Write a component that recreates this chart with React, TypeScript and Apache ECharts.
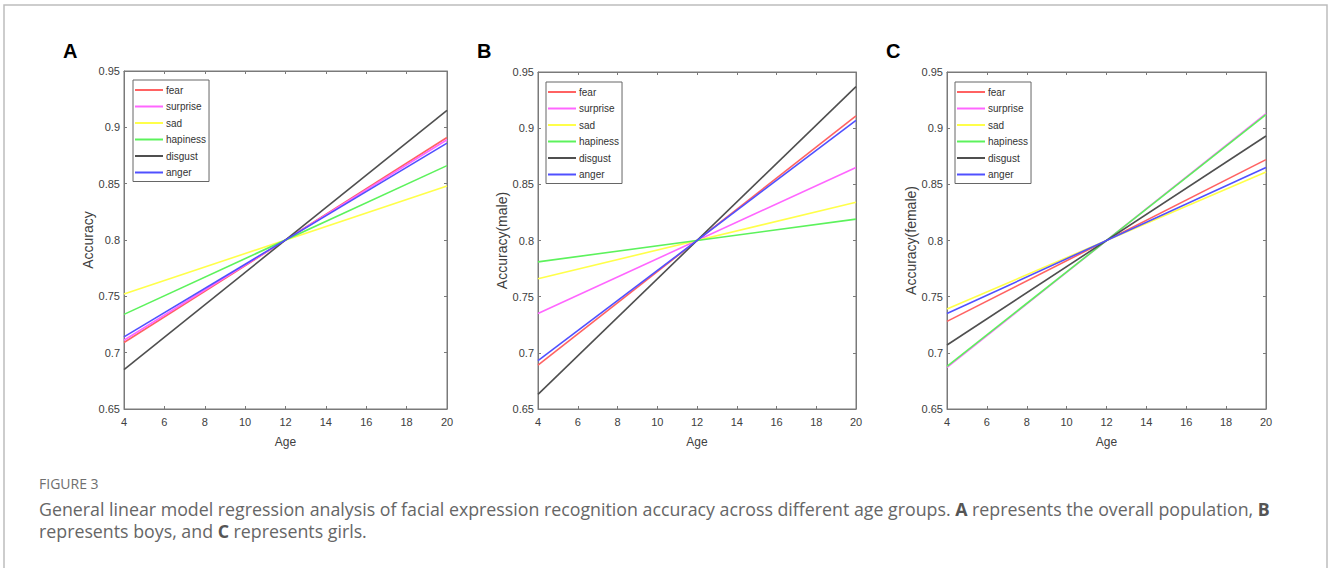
import React, { useEffect, useRef } from 'react';
import * as echarts from 'echarts';

// ---- data ----
const ages = [4, 20];
const emotions = ['fear', 'surprise', 'sad', 'hapiness', 'disgust', 'anger'];
const emotionColors = ['#ff6262', '#ff66ff', '#ffff4a', '#5cf25c', '#4f4f4f', '#5050ff'];

// predicted accuracy at age 4 and at age 20 (order as in emotions)
const overallAt4 = [0.709, 0.711, 0.752, 0.734, 0.685, 0.714];
const overallAt20 = [0.891, 0.889, 0.848, 0.866, 0.915, 0.886];
const maleAt4 = [0.689, 0.735, 0.766, 0.781, 0.663, 0.693];
const maleAt20 = [0.911, 0.865, 0.834, 0.819, 0.937, 0.907];
const femaleAt4 = [0.728, 0.687, 0.739, 0.688, 0.707, 0.735];
const femaleAt20 = [0.872, 0.913, 0.861, 0.912, 0.893, 0.865];

const yAxisNames = ['Accuracy', 'Accuracy(male)', 'Accuracy(female)'];
const panelLetters = ['A', 'B', 'C'];
const xAxisName = 'Age';
const figureLabel = 'FIGURE 3';
const captionLine1 =
  'General linear model regression analysis of facial expression recognition accuracy across different age groups. {b|A} represents the overall population, {b|B}';
const captionLine2 = 'represents boys, and {b|C} represents girls.';

// ---- layout ----
const gridLefts = [124, 538, 947];
const gridWidths = [323, 318, 319];
const gridTops = [71, 72, 72];
const gridBottom = 409;
const legendLefts = [133, 546, 955];
const legendTops = [80, 82, 82];
const letterXs = [63, 477, 886];

const narrow = "'Liberation Sans Narrow', 'Arial Narrow', 'Liberation Sans', Arial, sans-serif";
const regular = "'Liberation Sans', Arial, sans-serif";
const captionFont = "'Open Sans', sans-serif";
const axisColor = '#7a7a7a';
const textColor = '#404040';

function buildOption() {
  const panels = [
    [overallAt4, overallAt20],
    [maleAt4, maleAt20],
    [femaleAt4, femaleAt20],
  ];
  const grid: any[] = [];
  const xAxis: any[] = [];
  const yAxis: any[] = [];
  const legend: any[] = [];
  const series: any[] = [];

  panels.forEach(([at4, at20], i) => {
    grid.push({
      left: gridLefts[i],
      top: gridTops[i],
      width: gridWidths[i],
      height: gridBottom - gridTops[i],
      show: true,
      borderColor: axisColor,
      borderWidth: 1,
      containLabel: false,
    });
    const tick = { show: true, inside: true, length: 3, lineStyle: { color: axisColor, width: 1 } };
    const line = { show: true, onZero: false, lineStyle: { color: axisColor, width: 1 } };
    xAxis.push({
      gridIndex: i,
      type: 'value',
      min: 4,
      max: 20,
      interval: 2,
      position: 'bottom',
      name: xAxisName,
      nameLocation: 'middle',
      nameGap: 27,
      nameTextStyle: { fontFamily: narrow, fontSize: 12, color: textColor },
      axisLine: line,
      axisTick: tick,
      axisLabel: { margin: 7, fontFamily: narrow, fontSize: 11, color: textColor },
      splitLine: { show: false },
    });
    xAxis.push({
      gridIndex: i,
      type: 'value',
      min: 4,
      max: 20,
      interval: 2,
      position: 'top',
      axisLine: line,
      axisTick: tick,
      axisLabel: { show: false },
      splitLine: { show: false },
    });
    yAxis.push({
      gridIndex: i,
      type: 'value',
      min: 0.65,
      max: 0.95,
      interval: 0.05,
      position: 'left',
      name: yAxisNames[i],
      nameLocation: 'middle',
      nameGap: 25,
      nameTextStyle: { fontFamily: regular, fontSize: 14, color: textColor },
      axisLine: line,
      axisTick: tick,
      axisLabel: {
        margin: 4,
        fontFamily: narrow,
        fontSize: 11,
        color: textColor,
        formatter: (v: number) => String(parseFloat(v.toFixed(2))),
      },
      splitLine: { show: false },
    });
    yAxis.push({
      gridIndex: i,
      type: 'value',
      min: 0.65,
      max: 0.95,
      interval: 0.05,
      position: 'right',
      axisLine: line,
      axisTick: tick,
      axisLabel: { show: false },
      splitLine: { show: false },
    });
    legend.push({
      orient: 'vertical',
      left: legendLefts[i],
      top: legendTops[i],
      data: emotions,
      icon: 'rect',
      itemWidth: 28,
      itemHeight: 2,
      itemGap: 4.5,
      padding: [4, 3, 3, 2],
      borderColor: '#666',
      borderWidth: 1,
      backgroundColor: '#fff',
      selectedMode: false,
      textStyle: { fontFamily: narrow, fontSize: 10, color: '#333', lineHeight: 12, padding: [0, 0, 0, -2] },
    });
    emotions.forEach((name, k) => {
      series.push({
        name,
        type: 'line',
        xAxisIndex: i * 2,
        yAxisIndex: i * 2,
        showSymbol: false,
        symbol: 'none',
        silent: true,
        itemStyle: { color: emotionColors[k] },
        lineStyle: { color: emotionColors[k], width: 1.6 },
        data: ages.map((a, j) => [a, j === 0 ? at4[k] : at20[k]]),
      });
    });
  });

  const graphic: any[] = [
    {
      type: 'rect',
      shape: { x: 4, y: 5, width: 1323, height: 620 },
      style: { fill: 'none', stroke: '#bdbdbd', lineWidth: 1.5 },
      silent: true,
    },
    ...panelLetters.map((t, i) => ({
      type: 'text',
      left: letterXs[i],
      top: 41,
      style: { text: t, fontFamily: regular, fontWeight: 'bold', fontSize: 20, fill: '#000' },
    })),
    {
      type: 'text',
      left: 39,
      top: 476,
      style: { text: figureLabel, fontFamily: captionFont, fontSize: 14, fill: '#6f6f6f' },
    },
    {
      type: 'text',
      left: 39,
      top: 500,
      style: {
        text: captionLine1,
        fontFamily: captionFont,
        fontSize: 17.8,
        fill: '#666',
        rich: { b: { fontFamily: captionFont, fontSize: 17.8, fontWeight: 'bold', fill: '#555' } },
      },
    },
    {
      type: 'text',
      left: 39,
      top: 522,
      style: {
        text: captionLine2,
        fontFamily: captionFont,
        fontSize: 17.8,
        fill: '#666',
        rich: { b: { fontFamily: captionFont, fontSize: 17.8, fontWeight: 'bold', fill: '#555' } },
      },
    },
  ];

  return {
    animation: false,
    backgroundColor: '#fff',
    grid,
    xAxis,
    yAxis,
    legend,
    series,
    graphic,
  };
}

export default function App() {
  const ref = useRef<HTMLDivElement>(null);
  useEffect(() => {
    if (!ref.current) return;
    const chart = echarts.init(ref.current, null, { renderer: 'svg' });
    chart.setOption(buildOption() as any);
    return () => chart.dispose();
  }, []);
  return (
    <div
      ref={ref}
      style={{ position: 'absolute', left: 0, top: 0, width: 1328, height: 568, background: '#fff' }}
    />
  );
}
